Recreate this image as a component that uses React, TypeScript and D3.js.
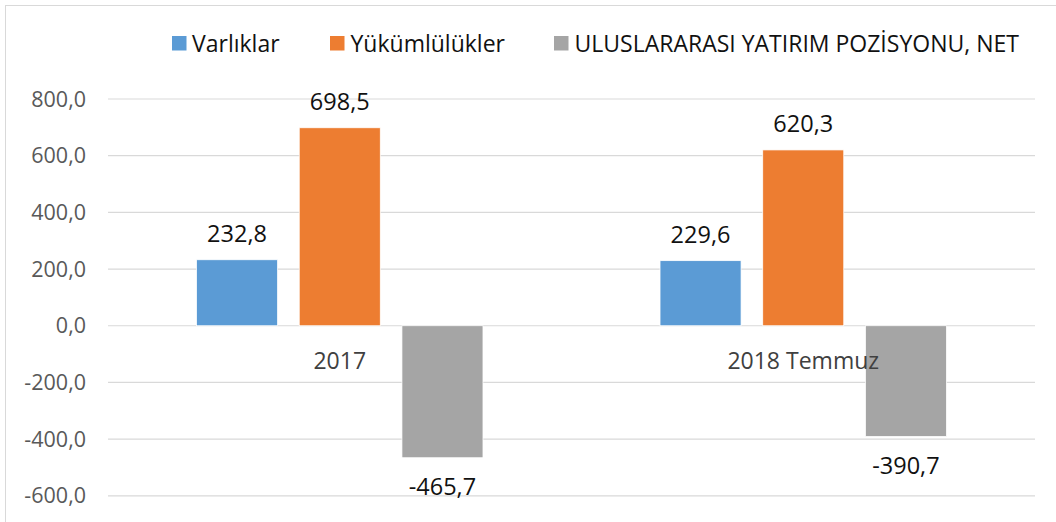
import React from "react";
import * as d3 from "d3";

const categories = ["2017", "2018 Temmuz"];
const seriesNames = ["Varlıklar", "Yükümlülükler", "ULUSLARARASI YATIRIM POZİSYONU, NET"];
const seriesColors = ["#5B9BD5", "#ED7D31", "#A5A5A5"];
const varliklar = [232.8, 229.6];
const yukumlulukler = [698.5, 620.3];
const netPozisyon = [-465.7, -390.7];
const yTicks = [-600, -400, -200, 0, 200, 400, 600, 800];

const W = 1056;
const H = 522;
const FONT = "'Open Sans', sans-serif";

const fmt = (v: number) => v.toFixed(1).replace(".", ",");

export default function App() {
  const seriesValues = [varliklar, yukumlulukler, netPozisyon];
  const y = d3.scaleLinear().domain([-600, 800]).range([495.8, 99]);
  const x0 = d3.scaleBand<string>().domain(categories).range([108, 1035]).paddingInner(0).paddingOuter(0);
  const x1 = d3
    .scaleBand<number>()
    .domain([0, 1, 2])
    .range([0, x0.bandwidth()])
    .paddingInner(0.211)
    .paddingOuter(0.862);

  const legendItems = [
    { sq: 172, tx: 192 },
    { sq: 330, tx: 350.5 },
    { sq: 554, tx: 574.5 },
  ];

  return (
    <svg
      width={W}
      height={H}
      style={{ position: "absolute", left: 0, top: 0, background: "#fff" }}
      fontFamily={FONT}
    >
      <rect x={0} y={0} width={W} height={H} fill="#fff" />
      <rect x={5.5} y={5.5} width={W + 20} height={H + 20} fill="none" stroke="#d9d9d9" strokeWidth={1} />

      {/* gridlines */}
      {yTicks.map((t) => (
        <line key={t} x1={108} x2={1035} y1={y(t)} y2={y(t)} stroke="#d9d9d9" strokeWidth={1.2} />
      ))}

      {/* tick labels */}
      {yTicks.map((t) => (
        <text key={"l" + t} x={86} y={y(t) + 7.6} textAnchor="end" fontSize={21.5} fill="#595959">
          {fmt(t)}
        </text>
      ))}

      {/* bars */}
      {categories.map((c, ci) =>
        seriesValues.map((vals, si) => {
          const v = vals[ci];
          const bx = (x0(c) as number) + (x1(si) as number);
          const bw = x1.bandwidth();
          const top = y(Math.max(0, v));
          const bot = y(Math.min(0, v));
          return (
            <rect
              key={c + si}
              x={bx}
              y={top}
              width={bw}
              height={bot - top}
              fill={seriesColors[si]}
              stroke="#fff"
              strokeWidth={0.75}
            />
          );
        })
      )}

      {/* category labels */}
      {categories.map((c) => (
        <text
          key={"c" + c}
          x={(x0(c) as number) + x0.bandwidth() / 2}
          y={369}
          textAnchor="middle"
          fontSize={23}
          fill="#404040"
        >
          {c}
        </text>
      ))}

      {/* data labels */}
      {categories.map((c, ci) =>
        seriesValues.map((vals, si) => {
          const v = vals[ci];
          const cx = (x0(c) as number) + (x1(si) as number) + x1.bandwidth() / 2;
          const ly = v >= 0 ? y(v) - 18 : y(v) + 37.5;
          return (
            <text key={"d" + c + si} x={cx} y={ly} textAnchor="middle" fontSize={23.5} fill="#111">
              {fmt(v)}
            </text>
          );
        })
      )}

      {/* legend */}
      {seriesNames.map((n, i) => (
        <g key={"lg" + i}>
          <rect x={legendItems[i].sq} y={36} width={14.5} height={14.5} fill={seriesColors[i]} />
          <text x={legendItems[i].tx} y={51.7} fontSize={23} fill="#111">
            {n}
          </text>
        </g>
      ))}
    </svg>
  );
}
